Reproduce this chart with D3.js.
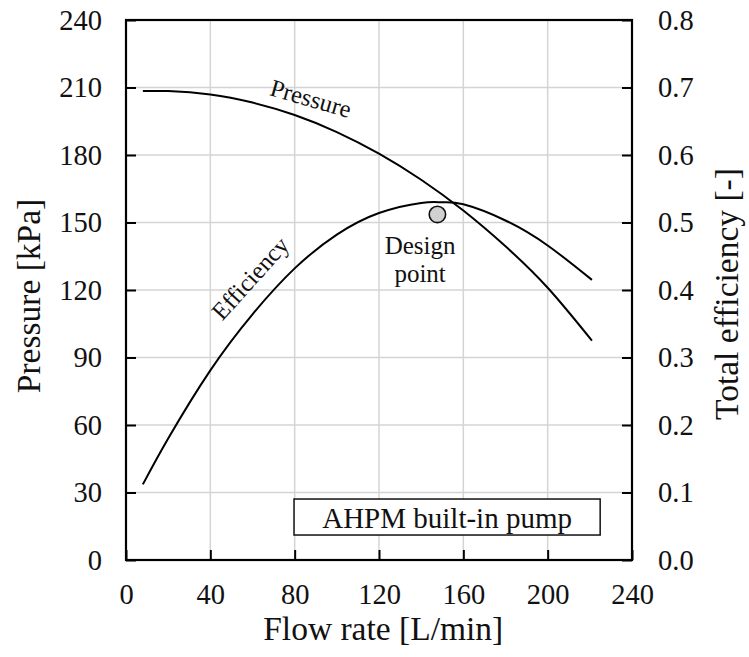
<!DOCTYPE html>
<html>
<head>
<meta charset="utf-8">
<script src="https://cdn.jsdelivr.net/npm/d3@7"></script>
<style>
  body { margin: 0; background: #fff; }
</style>
</head>
<body>
<svg id="chart" width="749" height="657"></svg>
<script>
// Values
const flowTicks = [0, 40, 80, 120, 160, 200, 240];
const pressureTicks = [0, 30, 60, 90, 120, 150, 180, 210, 240];
const effTicks = [0, 0.1, 0.2, 0.3, 0.4, 0.5, 0.6, 0.7, 0.8];

const pressureFlow = [8, 20, 40, 60, 80, 100, 120, 140, 160, 180, 200, 221];
const pressureVals = [208.4, 208.4, 206.9, 203.3, 197.8, 190.2, 180.6, 169.0, 155.3, 139.4, 121, 97.5];

const effFlow = [8, 20, 40, 60, 80, 100, 120, 140, 150, 160, 180, 200, 221];
const effVals = [0.112, 0.180, 0.281, 0.364, 0.432, 0.482, 0.514, 0.529, 0.530, 0.527, 0.503, 0.466, 0.415];

const designPoint = [147.7, 153.6]; // flow, kPa

const FONT = '"Liberation Serif", "Times New Roman", Times, serif';

const svg = d3.select('#chart').style('font-family', FONT);
const margin = {top: 20, right: 117, bottom: 97, left: 126};
const width = 749 - margin.left - margin.right;   // 506
const height = 657 - margin.top - margin.bottom;  // 540

const x = d3.scaleLinear().domain([0, 240]).range([0, width]);
const yP = d3.scaleLinear().domain([0, 240]).range([height, 0]);
const yE = d3.scaleLinear().domain([0, 0.8]).range([height, 0]);

const g = svg.append('g').attr('transform', `translate(${margin.left},${margin.top})`);

// grid
g.append('g').selectAll('line').data(flowTicks.slice(1, -1)).join('line')
    .attr('x1', d => x(d)).attr('x2', d => x(d))
    .attr('y1', 0).attr('y2', height)
    .attr('stroke', '#d4d4d4').attr('stroke-width', 1.5);
g.append('g').selectAll('line').data(pressureTicks.slice(1, -1)).join('line')
    .attr('y1', d => yP(d)).attr('y2', d => yP(d))
    .attr('x1', 0).attr('x2', width)
    .attr('stroke', '#d4d4d4').attr('stroke-width', 1.5);

// axes with inward ticks
const styleAxis = (sel) => {
    sel.attr('font-family', null).attr('font-size', null);
    sel.select('.domain').remove();
    sel.selectAll('.tick line').attr('stroke', '#000').attr('stroke-width', 2);
    sel.selectAll('.tick text')
        .style('font-family', FONT).style('font-size', '28.5px').attr('fill', '#111');
};

g.append('g').attr('transform', `translate(0,${height})`)
    .call(d3.axisBottom(x).tickValues(flowTicks).tickSizeInner(-10).tickSizeOuter(0).tickPadding(24).tickFormat(d3.format('d')))
    .call(styleAxis)
    .call(a => a.selectAll('.tick text').attr('dy', '0.71em'));

g.append('g')
    .call(d3.axisLeft(yP).tickValues(pressureTicks).tickSizeInner(-10).tickSizeOuter(0).tickPadding(24).tickFormat(d3.format('d')))
    .call(styleAxis);

g.append('g').attr('transform', `translate(${width},0)`)
    .call(d3.axisRight(yE).tickValues(effTicks).tickSizeInner(-10).tickSizeOuter(0).tickPadding(26).tickFormat(d3.format('.1f')))
    .call(styleAxis);

// frame
g.append('rect').attr('x', 0).attr('y', 0).attr('width', width).attr('height', height)
    .attr('fill', 'none').attr('stroke', '#000').attr('stroke-width', 2.2);

// curves
const pLine = d3.line().curve(d3.curveNatural).x(d => x(d[0])).y(d => yP(d[1]));
const eLine = d3.line().curve(d3.curveNatural).x(d => x(d[0])).y(d => yE(d[1]));

g.append('path').datum(d3.zip(pressureFlow, pressureVals))
    .attr('d', pLine).attr('fill', 'none').attr('stroke', '#000').attr('stroke-width', 2);
g.append('path').datum(d3.zip(effFlow, effVals))
    .attr('d', eLine).attr('fill', 'none').attr('stroke', '#000').attr('stroke-width', 2);

// design point
g.append('circle').datum(designPoint)
    .attr('cx', d => x(d[0])).attr('cy', d => yP(d[1])).attr('r', 8.2)
    .attr('fill', '#d0d0d0').attr('stroke', '#111').attr('stroke-width', 1.6);

// curve labels
const label = (sel, size) => sel.style('font-family', FONT).style('font-size', size).attr('fill', '#111');

g.append('text').text('Pressure')
    .attr('transform', `translate(${x(87.7)},${yP(205.2)}) rotate(16)`)
    .attr('text-anchor', 'middle').attr('dy', '0.35em').call(label, '24.5px');
g.append('text').text('Efficiency')
    .attr('transform', `translate(${x(58.8)},${yP(125.3)}) rotate(-48)`)
    .attr('text-anchor', 'middle').attr('dy', '0.35em').call(label, '24.5px');

const dp = g.append('text').attr('text-anchor', 'middle').call(label, '25px');
dp.append('tspan').attr('x', x(139.5)).attr('y', yP(136)).text('Design');
dp.append('tspan').attr('x', x(139.5)).attr('y', yP(123.6)).text('point');

// annotation box
g.append('rect')
    .attr('x', x(79.7)).attr('y', yP(27.1))
    .attr('width', x(224.9) - x(79.7)).attr('height', yP(11.1) - yP(27.1))
    .attr('fill', '#fff').attr('stroke', '#111').attr('stroke-width', 1.5);
g.append('text').text('AHPM built-in pump')
    .attr('x', x(152.3)).attr('y', yP(14.2))
    .attr('text-anchor', 'middle').call(label, '29px');

// axis titles
svg.append('text').text('Flow rate [L/min]')
    .attr('x', margin.left + x(122)).attr('y', 640)
    .attr('text-anchor', 'middle').call(label, '33.5px');
svg.append('text').text('Pressure [kPa]')
    .attr('transform', `translate(40,${margin.top + height / 2 + 6}) rotate(-90)`)
    .attr('text-anchor', 'middle').call(label, '33.5px');
svg.append('text').text('Total efficiency [-]')
    .attr('transform', `translate(738,${margin.top + height / 2 + 4}) rotate(-90)`)
    .attr('text-anchor', 'middle').call(label, '33.5px');
</script>
</body>
</html>
